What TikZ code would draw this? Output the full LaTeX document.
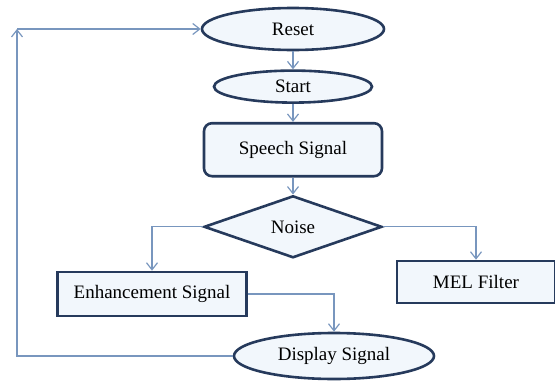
\documentclass[tikz,border=0pt]{standalone}
\usepackage{fontspec}
\setmainfont{Liberation Serif}
\newfontfamily\flowfont{Liberation Serif}
\usetikzlibrary{arrows.meta, positioning, shapes.geometric}
\definecolor{edgeblue}{RGB}{38,58,92}
\definecolor{paleblue}{RGB}{242,247,252}
\definecolor{linkblue}{RGB}{120,150,190}

\begin{document}
\begin{tikzpicture}[x=1pt, y=1pt, >={Straight Barb[length=7pt, width=11pt]},
    font=\flowfont\fontsize{19}{22}\selectfont, node distance=18pt,
    blockbox/.style={draw=edgeblue, line width=2.6pt, fill=paleblue, inner sep=2pt},
    conn/.style={->, draw=linkblue, line width=1.2pt}]
  \useasboundingbox (0,0) rectangle (555,-383);

  % Main chain
  \node[blockbox, ellipse, minimum width=182pt, minimum height=42pt] (reset)
    at (293,-29) {Reset};
  \node[blockbox, ellipse, minimum width=158pt, minimum height=32pt,
        below=18pt of reset] (start) {Start};
  \node[blockbox, rounded corners=8pt, minimum width=178pt, minimum height=53pt,
        below=18pt of start] (speech) {Speech Signal};
  \node[blockbox, diamond, aspect=2.9, minimum width=178pt, minimum height=62pt,
        inner sep=0pt, below=17pt of speech] (noise) {Noise};

  % Branches
  \node[blockbox, minimum width=189pt, minimum height=44pt] (enh)
    at (152,-294) {Enhancement Signal};
  \node[blockbox, minimum width=158pt, minimum height=42pt] (mel)
    at (476,-282) {MEL Filter};
  \node[blockbox, ellipse, minimum width=200pt, minimum height=46pt] (disp)
    at (334,-356) {Display Signal};
  \coordinate (corner) at (17,-29);

  % Connectors
  \draw[conn] (reset) -- (start);
  \draw[conn] (start) -- (speech);
  \draw[conn] (speech) -- (noise);
  \draw[conn] (noise.west) -| (enh.north);
  \draw[conn] (noise.east) -| (mel.north);
  \draw[conn] (enh.east) -| (disp.north);

  % Feedback loop
  \draw[conn] (disp.west) -| (corner);
  \draw[conn] (corner) -- (reset.west);
\end{tikzpicture}
\end{document}
